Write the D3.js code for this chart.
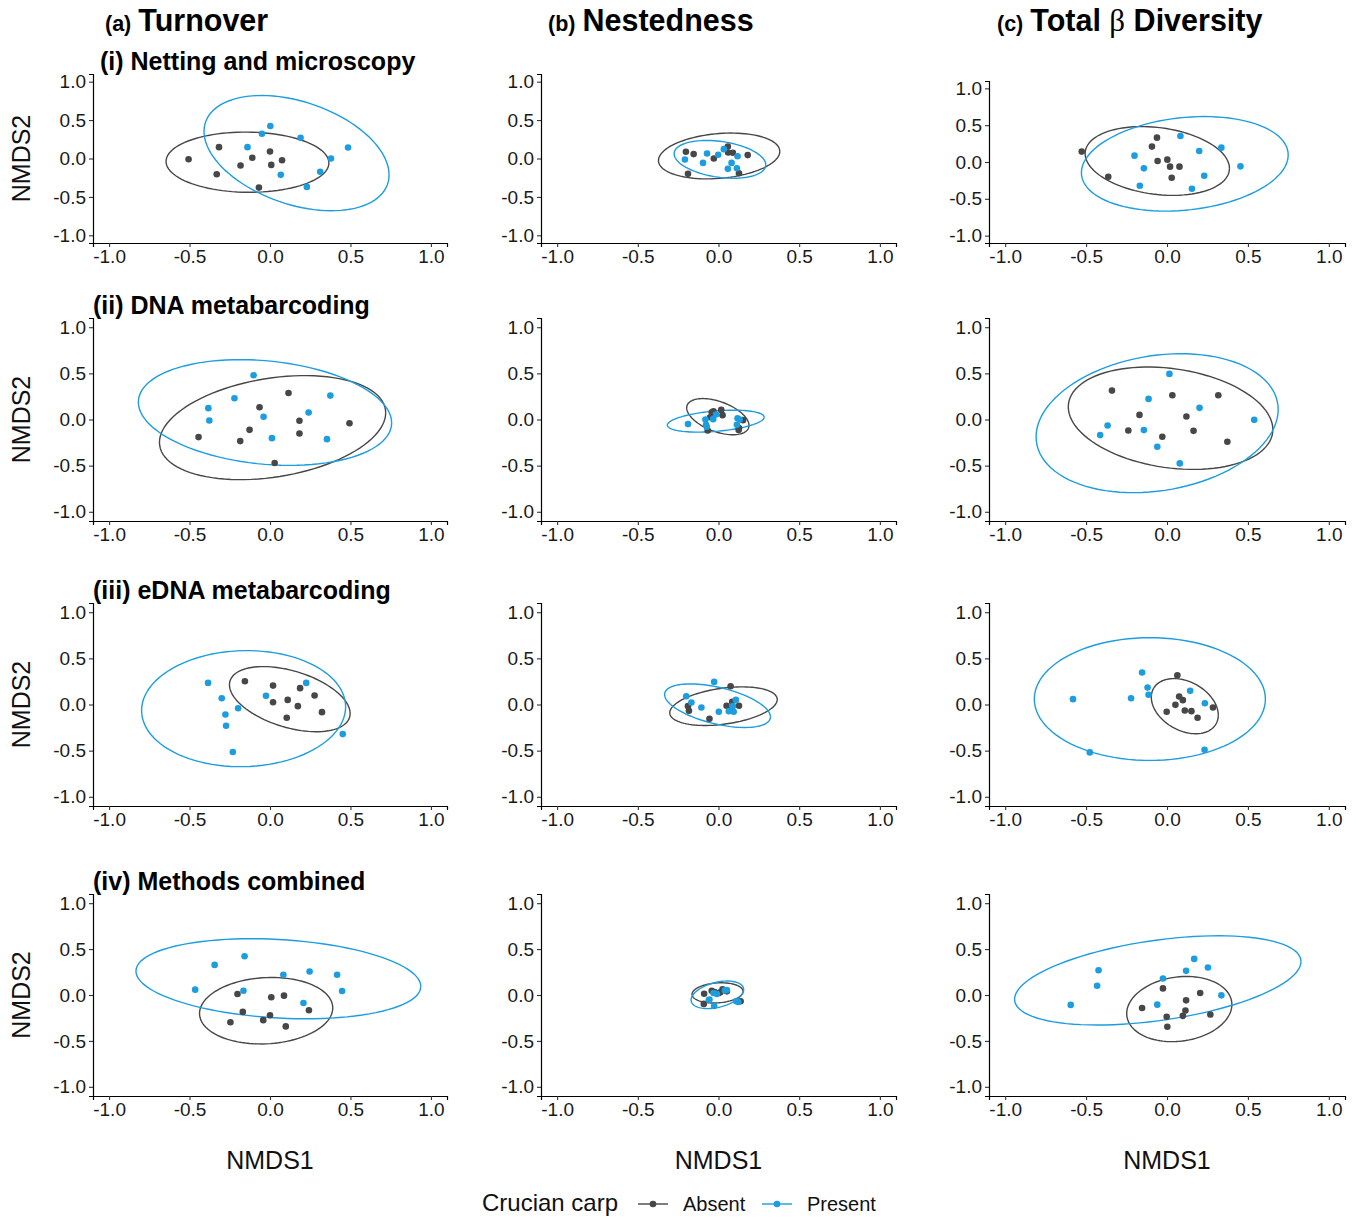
<!DOCTYPE html>
<html>
<head>
<meta charset="utf-8">
<script src="https://cdn.jsdelivr.net/npm/d3@7"></script>
<style>
  body { margin: 0; background: #fff; }
  svg { font-family: "Liberation Sans", Arial, sans-serif; }
</style>
</head>
<body>
<svg id="chart" width="1357" height="1218"></svg>
<script>
// points: [NMDS1, NMDS2]
// panel codes: a/b/c = turnover/nestedness/total, 1..4 = method row
const a1Absent = [[-0.506, -0.01], [-0.317, 0.148], [-0.11, 0.009], [-0.183, -0.092], [0.0, 0.092], [0.008, -0.083], [0.075, -0.022], [-0.331, -0.205], [-0.069, -0.379]];
const a1Present = [[0.002, 0.423], [-0.05, 0.322], [0.19, 0.27], [-0.14, 0.148], [0.485, 0.144], [0.379, 0.0], [0.312, -0.174], [0.067, -0.213], [0.229, -0.37]];
const b1Absent = [[-0.202, 0.087], [-0.154, 0.057], [-0.029, 0.0], [0.058, 0.157], [0.06, 0.078], [0.089, 0.074], [0.181, 0.044], [-0.189, -0.2], [0.127, -0.192]];
const b1Present = [[-0.208, -0.013], [-0.071, 0.065], [-0.002, 0.048], [0.033, 0.122], [0.118, 0.03], [-0.096, -0.057], [0.081, -0.057], [0.058, -0.135], [0.114, -0.126]];
const c1Absent = [[-0.527, 0.141], [-0.062, 0.331], [-0.093, 0.209], [-0.058, 0.014], [0.002, 0.032], [0.019, -0.063], [0.077, -0.063], [-0.363, -0.2], [0.029, -0.213]];
const c1Present = [[0.083, 0.354], [0.199, 0.15], [0.336, 0.195], [-0.201, 0.086], [-0.143, -0.086], [0.454, -0.059], [0.23, -0.186], [-0.168, -0.322], [0.154, -0.363]];

const a2Absent = [[0.115, 0.288], [-0.065, 0.133], [0.183, -0.014], [0.494, -0.04], [-0.127, -0.112], [0.183, -0.151], [-0.444, -0.191], [-0.185, -0.234], [0.029, -0.472]];
const a2Present = [[-0.102, 0.479], [-0.221, 0.231], [0.375, 0.259], [-0.383, 0.123], [0.24, 0.076], [-0.04, 0.029], [-0.377, -0.011], [0.012, -0.202], [0.354, -0.213]];
const b2Absent = [[-0.042, 0.079], [-0.031, 0.09], [0.017, 0.104], [0.025, 0.047], [-0.052, 0.025], [0.152, -0.007], [0.125, -0.115], [-0.067, -0.119], [0.127, -0.094]];
const b2Present = [[-0.189, -0.05], [-0.081, 0.0], [-0.033, 0.004], [-0.077, -0.058], [-0.073, -0.079], [0.118, 0.014], [0.131, 0.0], [0.114, -0.058], [-0.015, 0.054]];
const c2Absent = [[-0.34, 0.313], [0.033, 0.263], [0.317, 0.263], [-0.17, 0.05], [0.12, 0.032], [-0.239, -0.119], [0.164, -0.123], [-0.029, -0.187], [0.373, -0.241]];
const c2Present = [[0.015, 0.494], [-0.114, 0.223], [0.201, 0.126], [0.539, -0.004], [-0.367, -0.065], [-0.143, -0.115], [-0.413, -0.169], [-0.06, -0.295], [0.079, -0.476]];

const a3Absent = [[-0.156, 0.252], [0.019, 0.205], [0.187, 0.177], [0.277, 0.097], [0.019, 0.025], [0.11, 0.05], [0.173, -0.018], [0.323, -0.083], [0.104, -0.144]];
const a3Present = [[-0.385, 0.234], [0.225, 0.234], [-0.025, 0.094], [-0.3, 0.068], [-0.198, -0.04], [-0.277, -0.108], [-0.273, -0.231], [0.452, -0.321], [-0.231, -0.515]];
const b3Absent = [[0.075, 0.198], [0.085, 0.029], [0.05, -0.014], [0.127, -0.014], [-0.189, -0.018], [-0.183, -0.068], [0.083, -0.065], [0.069, -0.065], [-0.056, -0.155]];
const b3Present = [[-0.027, 0.245], [-0.2, 0.09], [-0.168, 0.022], [-0.106, -0.032], [0.002, -0.079], [0.108, 0.05], [0.089, -0.018], [0.064, -0.072], [0.094, -0.079]];
const c3Absent = [[0.064, 0.317], [0.075, 0.086], [0.098, 0.047], [0.052, -0.004], [-0.002, -0.079], [0.11, -0.065], [0.151, -0.072], [0.284, -0.032], [0.189, -0.144]];
const c3Present = [[-0.154, 0.346], [-0.12, 0.184], [-0.114, 0.105], [0.143, 0.148], [-0.222, 0.068], [-0.581, 0.058], [0.234, 0.014], [-0.477, -0.519], [0.232, -0.49]];

const a4Absent = [[-0.202, 0.011], [0.008, -0.025], [0.087, -0.007], [-0.169, -0.184], [0.242, -0.166], [0.0, -0.22], [-0.246, -0.296], [-0.042, -0.274], [0.098, -0.342]];
const a4Present = [[-0.158, 0.422], [-0.344, 0.328], [0.083, 0.22], [0.246, 0.256], [0.417, 0.22], [-0.465, 0.058], [-0.165, 0.047], [0.448, 0.043], [0.208, -0.087]];
const b4Absent = [[-0.089, 0.014], [-0.042, 0.047], [0.0, 0.022], [0.025, 0.061], [0.052, 0.04], [0.012, 0.029], [-0.091, -0.097], [0.137, -0.068], [-0.025, 0.032]];
const b4Present = [[-0.06, -0.054], [-0.027, -0.119], [0.11, -0.068], [-0.031, 0.022], [0.04, 0.05], [-0.01, 0.011], [0.052, 0.054], [-0.056, -0.05], [0.123, -0.076]];
const c4Absent = [[-0.025, 0.072], [0.205, 0.022], [0.118, -0.058], [-0.154, -0.141], [0.114, -0.169], [-0.002, -0.238], [0.098, -0.227], [0.268, -0.213], [0.002, -0.346]];
const c4Present = [[0.168, 0.393], [-0.423, 0.27], [0.118, 0.263], [0.253, 0.299], [-0.025, 0.18], [-0.432, 0.101], [0.336, -0.004], [-0.595, -0.108], [-0.06, -0.105]];

// 95% ellipses:
// [centre x, centre y, half-width in x, half-height in y, y offset at rightmost point]
const a1Ellipses = [[-0.14, -0.048, 0.506, 0.392, -0.01], [0.165, 0.07, 0.575, 0.75, -0.283]];
const b1Ellipses = [[0.004, 0.033, 0.376, 0.298, 0.059], [0.009, -0.011, 0.284, 0.246, -0.072]];
const c1Ellipses = [[-0.06, 0.014, 0.446, 0.467, -0.1], [0.11, -0.025, 0.639, 0.642, 0.12]];
const a2Ellipses = [[0.016, -0.088, 0.703, 0.564, 0.16], [-0.031, 0.076, 0.787, 0.573, -0.112]];
const b2Ellipses = [[-0.004, 0.031, 0.193, 0.196, -0.095], [-0.017, -0.018, 0.3, 0.119, 0.043]];
const c2Ellipses = [[0.022, 0.014, 0.632, 0.555, -0.123], [-0.061, -0.04, 0.748, 0.753, 0.148]];
const a3Ellipses = [[0.123, 0.058, 0.375, 0.353, -0.155], [-0.164, -0.045, 0.634, 0.629, 0.02]];
const b3Ellipses = [[0.031, -0.018, 0.333, 0.209, 0.072], [-0.006, -0.013, 0.328, 0.236, -0.121]];
const c3Ellipses = [[0.11, -0.018, 0.207, 0.299, -0.097], [-0.106, 0.059, 0.714, 0.665, 0.0]];
const a4Ellipses = [[-0.024, -0.171, 0.414, 0.362, 0.03], [0.052, 0.177, 0.885, 0.436, -0.083]];
const b4Ellipses = [[-0.006, 0.023, 0.158, 0.11, 0.016], [-0.007, 0.002, 0.163, 0.15, 0.056]];
const c4Ellipses = [[0.076, -0.153, 0.325, 0.355, 0.049], [-0.057, 0.159, 0.885, 0.486, 0.205]];

const groups = ['Absent', 'Present'];
const ticks = [-1.0, -0.5, 0.0, 0.5, 1.0];
const colTitles = [['(a)', 'Turnover'], ['(b)', 'Nestedness'], ['(c)', 'Total ', 'β', ' Diversity']];
const rowTitles = ['(i) Netting and microscopy', '(ii) DNA metabarcoding', '(iii) eDNA metabarcoding', '(iv) Methods combined'];

const panels = [
  [[a1Absent, a1Present, a1Ellipses], [b1Absent, b1Present, b1Ellipses], [c1Absent, c1Present, c1Ellipses]],
  [[a2Absent, a2Present, a2Ellipses], [b2Absent, b2Present, b2Ellipses], [c2Absent, c2Present, c2Ellipses]],
  [[a3Absent, a3Present, a3Ellipses], [b3Absent, b3Present, b3Ellipses], [c3Absent, c3Present, c3Ellipses]],
  [[a4Absent, a4Present, a4Ellipses], [b4Absent, b4Present, b4Ellipses], [c4Absent, c4Present, c4Ellipses]],
];

const colour = d3.scaleOrdinal().domain(groups).range(['#474747', '#1c9de0']);

const colX = [[93, 447], [541, 896], [989, 1345]];
const rowY = [[243, 74], [521, 318], [806, 603], [1096, 894]];

const svg = d3.select('#chart');

function ellipsePoints(e) {
  const [cx, cy, a, b, dy] = e;
  const phi = Math.acos(Math.max(-1, Math.min(1, dy / b)));
  return d3.range(0, 101).map((i) => {
    const t = (i / 100) * 2 * Math.PI;
    return [cx + a * Math.cos(t), cy + b * Math.cos(t - phi)];
  });
}

panels.forEach((row, ri) => {
  row.forEach((cell, ci) => {
    const [absent, present, ellipses] = cell;
    let yr = rowY[ri];
    if (ri === 0 && ci === 2) yr = [243, 81];

    const x = d3.scaleLinear().domain([-1.1, 1.1]).range(colX[ci]);
    const y = d3.scaleLinear().domain([-1.1, 1.1]).range(yr);
    const g = svg.append('g');

    const xAxisG = g.append('g')
      .attr('transform', `translate(0,${yr[0]})`)
      .call(d3.axisBottom(x).tickValues(ticks).tickSizeOuter(0).tickSize(4).tickPadding(3)
        .tickFormat((d) => d.toFixed(1)));
    const yAxisG = g.append('g')
      .attr('transform', `translate(${colX[ci][0]},0)`)
      .call(d3.axisLeft(y).tickValues(ticks).tickSizeOuter(0).tickSize(4).tickPadding(3)
        .tickFormat((d) => d.toFixed(1)));

    [xAxisG, yAxisG].forEach((ax) => {
      ax.selectAll('.domain').attr('stroke', '#000').attr('stroke-width', 1.2);
      ax.selectAll('.tick line').attr('stroke', '#333').attr('stroke-width', 1.1);
      ax.selectAll('.tick text').attr('fill', '#1a1a1a').attr('font-size', 19)
        .attr('font-family', '"Liberation Sans", Arial, sans-serif');
    });

    const line = d3.line().x((d) => x(d[0])).y((d) => y(d[1]));
    [absent, present].forEach((pts, gi) => {
      g.append('path')
        .datum(ellipsePoints(ellipses[gi]))
        .attr('d', line)
        .attr('fill', 'none')
        .attr('stroke', colour(groups[gi]))
        .attr('stroke-width', 1.4);
    });
    [absent, present].forEach((pts, gi) => {
      g.selectAll(null)
        .data(pts)
        .join('circle')
        .attr('cx', (d) => x(d[0]))
        .attr('cy', (d) => y(d[1]))
        .attr('r', 3.3)
        .attr('fill', colour(groups[gi]));
    });

    if (ci === 0) {
      svg.append('text')
        .attr('transform', `translate(30,${(yr[0] + yr[1]) / 2}) rotate(-90)`)
        .attr('text-anchor', 'middle')
        .attr('font-size', 25)
        .attr('fill', '#111')
        .text('NMDS2');
    }
    if (ri === 3) {
      svg.append('text')
        .attr('x', (colX[ci][0] + colX[ci][1]) / 2)
        .attr('y', 1169)
        .attr('text-anchor', 'middle')
        .attr('font-size', 25)
        .attr('fill', '#111')
        .text('NMDS1');
    }
  });
});

// column titles
const colTitleX = [105, 548, 997];
colTitles.forEach((parts, ci) => {
  const t = svg.append('text')
    .attr('x', colTitleX[ci])
    .attr('y', 31)
    .attr('font-weight', 'bold')
    .attr('fill', '#000');
  t.append('tspan').attr('font-size', 21.5).text(parts[0]);
  t.append('tspan').attr('font-size', 30.5).attr('dx', 7).text(parts[1]);
  if (parts.length > 2) {
    t.append('tspan').attr('font-size', 31).attr('font-weight', 'normal')
      .attr('font-family', '"Liberation Serif", "DejaVu Serif", serif').text(parts[2]);
    t.append('tspan').attr('font-size', 30.5).text(parts[3]);
  }
});

// row titles
const rowTitleX = [100, 93, 93, 93];
const rowTitleY = [70, 314, 599, 890];
rowTitles.forEach((txt, ri) => {
  svg.append('text')
    .attr('x', rowTitleX[ri])
    .attr('y', rowTitleY[ri])
    .attr('font-size', 25)
    .attr('font-weight', 'bold')
    .attr('fill', '#000')
    .text(txt);
});

// legend
const legY = 1204;
svg.append('text').attr('x', 482).attr('y', legY + 7).attr('font-size', 24).attr('fill', '#111').text('Crucian carp');
const legX = [638, 762];
groups.forEach((gname, i) => {
  svg.append('line')
    .attr('x1', legX[i]).attr('x2', legX[i] + 30)
    .attr('y1', legY).attr('y2', legY)
    .attr('stroke', colour(gname)).attr('stroke-width', 1.4);
  svg.append('circle')
    .attr('cx', legX[i] + 15).attr('cy', legY).attr('r', 3.3)
    .attr('fill', colour(gname));
  svg.append('text')
    .attr('x', legX[i] + 45).attr('y', legY + 7)
    .attr('font-size', 20).attr('fill', '#111')
    .text(gname);
});
</script>
</body>
</html>
